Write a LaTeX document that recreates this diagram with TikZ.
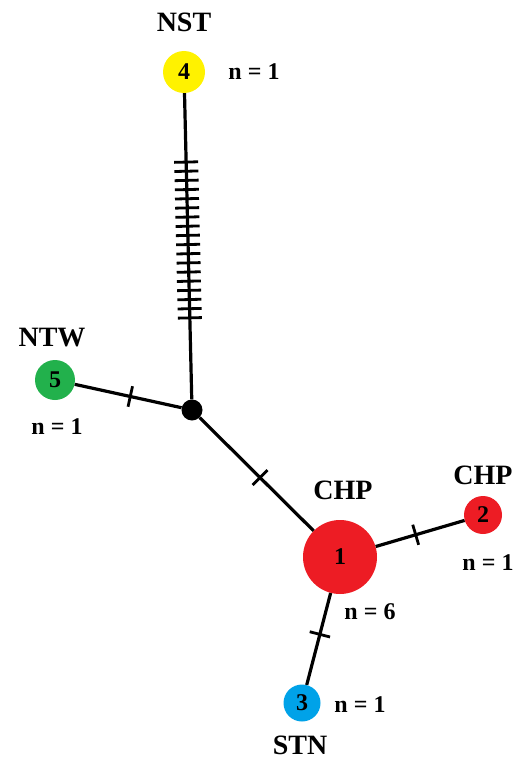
\documentclass[tikz,border=0pt]{standalone}
\usepackage{fontspec}
\setmainfont{Liberation Serif}
\usetikzlibrary{calc}
\definecolor{hred}{RGB}{237,28,36}
\definecolor{hyellow}{RGB}{255,242,0}
\definecolor{hgreen}{RGB}{34,177,76}
\definecolor{hblue}{RGB}{0,162,232}
\tikzset{
  hap/.style={circle, inner sep=0pt, minimum size=#1, font=\fontsize{24}{24}\selectfont\bfseries},
  junc/.style={circle, fill=black, inner sep=0pt, minimum size=21pt},
  lab/.style={inner sep=0.5pt, font=\fontsize{28}{28}\selectfont\bfseries},
  cnt/.style={inner sep=0.5pt, font=\fontsize{24}{24}\selectfont\bfseries},
  edge/.style={line width=3.2pt, black},
  tick/.style={line width=2.8pt, black}
}
\newcommand{\mtick}[4]{% from, to, pos, halflength
  \path (#1) -- (#2) coordinate[pos=#3] (tk);
  \draw[tick] ($(tk)!#4!90:(#2)$) -- ($(tk)!#4!-90:(#2)$);
}
\begin{document}
\begin{tikzpicture}[x=1pt,y=-1pt]
\useasboundingbox (0,0) rectangle (517,760);
% haplotype nodes
\node[hap=42pt, fill=hyellow] (n4) at (184,72) {4};
\node[hap=40pt, fill=hgreen] (n5) at (55,380) {5};
\node[hap=74pt, fill=hred] (n1) at (340,557) {1};
\node[hap=38pt, fill=hred] (n2) at (483,515) {2};
\node[hap=37pt, fill=hblue] (n3) at (302,703) {3};
\node[junc] (J) at (192,410) {};
% edges
\draw[edge] (n4) -- (J);
\draw[edge] (n5) -- (J);
\draw[edge] (J) -- (n1);
\draw[edge] (n1) -- (n2);
\draw[edge] (n1) -- (n3);
% mutation ticks
\foreach \t in {0,...,17}{
  \pgfmathsetmacro{\pp}{0.225+0.02994*\t}
  \mtick{n4}{J}{\pp}{12pt}
}
\mtick{n5}{J}{0.52}{10.5pt}
\mtick{J}{n1}{0.53}{10.5pt}
\mtick{n1}{n2}{0.45}{10.5pt}
\mtick{n1}{n3}{0.45}{10.5pt}
% labels
\node[lab] (l4) at (184,22) {NST};
\node[cnt] (c4) at (254,72) {n = 1};
\node[lab] (l5) at (52,338) {NTW};
\node[cnt] (c5) at (57,427) {n = 1};
\node[lab] (l1) at (343,490) {CHP};
\node[cnt] (c1) at (370,612) {n = 6};
\node[lab] (l2) at (483,475) {CHP};
\node[cnt] (c2) at (488,563) {n = 1};
\node[cnt] (c3) at (360,705) {n = 1};
\node[lab, anchor=base] (l3) at (300,754) {STN};
\end{tikzpicture}
\end{document}
